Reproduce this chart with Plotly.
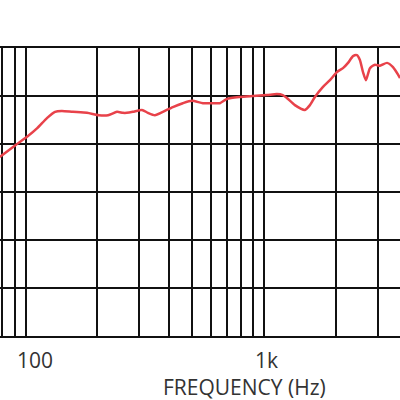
import math
import plotly.graph_objects as go

# Frequency response (Hz, dB)
freq_hz = [78, 91, 101.5, 112, 123, 133, 142, 158, 181, 203, 222, 242, 256, 266, 282,
           308, 326, 349, 377, 415, 457, 499, 555, 611, 654, 700, 793, 899, 1030, 1133,
           1200, 1248, 1349, 1486, 1560, 1637, 1770, 1893, 2026, 2147, 2254, 2366, 2455,
           2528, 2604, 2680, 2786, 2924, 3070, 3284, 3480, 3726]
level_db = [77.3, 79.8, 81.5, 83.3, 85.4, 86.7, 86.9, 86.7, 86.5, 86.0, 86.0, 86.7, 86.5, 86.5, 86.7,
            87.1, 86.5, 86.0, 86.7, 87.7, 88.5, 89.0, 88.5, 88.5, 88.5, 89.4, 89.8, 90.0, 90.2, 90.4,
            90.2, 89.6, 88.1, 87.1, 88.1, 89.8, 91.9, 93.3, 95.0, 95.8, 96.9, 98.3, 98.5,
            97.5, 95.0, 93.3, 95.8, 96.5, 96.3, 96.9, 96.0, 93.75]

grid_freqs = [80, 90, 100, 200, 300, 400, 500, 600, 700, 800, 900, 1000, 2000, 3000]
tick_labels = ["100", "1k"]
tick_label_freqs = [100, 1000]
x_title = "FREQUENCY (Hz)"
y_min, y_max, y_step = 40, 100, 10

fig = go.Figure()
fig.add_trace(go.Scatter(x=freq_hz, y=level_db, mode="lines",
                         line=dict(color="#e8424a", width=2.5, shape="spline", smoothing=0.6),
                         hoverinfo="skip", showlegend=False))

fig.update_layout(
    width=400, height=400,
    margin=dict(l=0, r=0, t=48, b=64),
    paper_bgcolor="white", plot_bgcolor="white",
    xaxis=dict(type="log", range=[1.893, 3.571], tickvals=grid_freqs, showticklabels=False,
               showgrid=True, gridcolor="#111", gridwidth=2, zeroline=False,
               showline=True, linecolor="#111", linewidth=2, mirror=True, ticks=""),
    yaxis=dict(range=[y_min, y_max], dtick=y_step, tick0=y_min, showticklabels=False,
               showgrid=True, gridcolor="#111", gridwidth=2, zeroline=False,
               showline=False, ticks=""),
)

shifts = [9, 3]
for lab, f, s in zip(tick_labels, tick_label_freqs, shifts):
    fig.add_annotation(x=math.log10(f), xref="x", y=-0.0833, yref="paper", text=lab,
                       showarrow=False, xanchor="center", yanchor="middle", xshift=s,
                       font=dict(family="Open Sans", size=21, color="#333"))
fig.add_annotation(x=0.61, xref="paper", y=-0.177, yref="paper", text=x_title,
                   showarrow=False, xanchor="center", yanchor="middle",
                   font=dict(family="Open Sans", size=21, color="#333"))

fig.write_html("out.html")
